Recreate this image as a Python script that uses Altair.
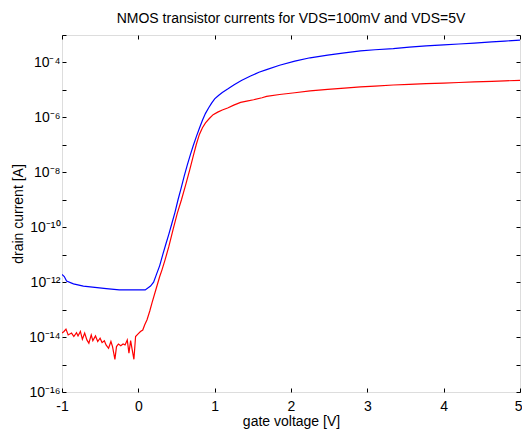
import json
import altair as alt
import pandas as pd

title_text = "NMOS transistor currents for VDS=100mV and VDS=5V"
x_title = "gate voltage [V]"
y_title = "drain current [A]"

# VDS = 5V (blue)
vg_5v = [-1.00, -0.97, -0.94, -0.85, -0.72, -0.60, -0.42, -0.25, 0.09, 0.16, 0.20, 0.24,
         0.28, 0.32, 0.36, 0.40, 0.44, 0.48, 0.52, 0.56, 0.60, 0.64, 0.68, 0.72, 0.76,
         0.80, 0.84, 0.88, 0.92, 0.96, 1.00, 1.05, 1.10, 1.17, 1.25, 1.35, 1.47, 1.58,
         1.68, 1.85, 2.05, 2.25, 2.48, 2.70, 2.91, 3.10, 3.34, 3.55, 3.77, 4.00, 4.20,
         4.40, 4.63, 4.80, 5.00]
id_5v = [1.9e-12, 1.6e-12, 1.1e-12, 8.7e-13, 7.2e-13, 6.6e-13, 5.8e-13, 5.2e-13, 5.2e-13,
         7.2e-13, 1.0e-12, 2.0e-12, 4.0e-12, 1.0e-11, 2.4e-11, 5.6e-11, 1.4e-10, 3.5e-10,
         1.0e-9, 2.6e-9, 7.1e-9, 1.8e-8, 4.2e-8, 9.5e-8, 2.0e-7, 4.0e-7, 7.9e-7, 1.4e-6,
         2.2e-6, 3.3e-6, 4.7e-6, 6.3e-6, 8.1e-6, 1.07e-5, 1.5e-5, 2.2e-5, 3.2e-5, 4.4e-5,
         5.5e-5, 7.9e-5, 1.12e-4, 1.48e-4, 1.86e-4, 2.24e-4, 2.63e-4, 2.9e-4, 3.2e-4,
         3.6e-4, 4.0e-4, 4.4e-4, 4.7e-4, 5.1e-4, 5.6e-4, 6.0e-4, 6.5e-4]

# VDS = 100mV (red)
vg_100mv = [-1.000, -0.974, -0.948, -0.919, -0.875, -0.845, -0.810, -0.790, -0.759, -0.733,
            -0.703, -0.674, -0.648, -0.617, -0.596, -0.561, -0.532, -0.501, -0.475, -0.445,
            -0.423, -0.390, -0.359, -0.338, -0.307, -0.286, -0.261, -0.230, -0.200, -0.174,
            -0.145, -0.123, -0.101, -0.080, -0.058, -0.036, -0.003, 0.028, 0.058, 0.084,
            0.114, 0.15, 0.18, 0.235, 0.28, 0.31, 0.351, 0.40, 0.458, 0.51, 0.565, 0.62,
            0.674, 0.72, 0.76, 0.80, 0.84, 0.88, 0.93, 0.98, 1.04, 1.10, 1.17, 1.25, 1.34,
            1.42, 1.51, 1.62, 1.68, 1.85, 2.05, 2.25, 2.48, 2.70, 2.91, 3.10, 3.34, 3.55,
            3.77, 4.00, 4.20, 4.40, 4.63, 4.80, 5.00]
id_100mv = [1.4e-14, 1.6e-14, 1.95e-14, 1.2e-14, 1.4e-14, 1.05e-14, 1.45e-14, 1.1e-14, 1.6e-14,
            8.3e-15, 1.4e-14, 7.9e-15, 6.0e-15, 1.2e-14, 7.4e-15, 1.1e-14, 6.9e-15, 9.1e-15,
            6.3e-15, 7.4e-15, 5.2e-15, 3.9e-15, 6.9e-15, 4.5e-15, 1.55e-15, 4.5e-15, 5.6e-15,
            4.8e-15, 5.6e-15, 5.2e-15, 7.9e-15, 2.6e-15, 7.4e-15, 3.4e-15, 1.55e-15, 1.05e-14,
            1.3e-14, 1.6e-14, 1.8e-14, 2.8e-14, 4.3e-14, 8.9e-14, 1.8e-13, 6.0e-13, 1.6e-12,
            2.8e-12, 6.6e-12, 2.0e-11, 8.9e-11, 3.2e-10, 1.0e-9, 3.5e-9, 1.26e-8, 4.0e-8,
            1.05e-7, 2.4e-7, 4.2e-7, 6.3e-7, 9.1e-7, 1.26e-6, 1.55e-6, 1.86e-6, 2.2e-6, 2.8e-6,
            3.5e-6, 3.9e-6, 4.4e-6, 5.2e-6, 5.8e-6, 6.8e-6, 7.9e-6, 9.3e-6, 1.05e-5, 1.17e-5,
            1.29e-5, 1.38e-5, 1.51e-5, 1.58e-5, 1.7e-5, 1.78e-5, 1.86e-5, 1.95e-5, 2.04e-5,
            2.14e-5, 2.24e-5]

series_names = ["VDS=5V", "VDS=100mV"]
series_colors = ["#0000ff", "#ff0000"]

x_ticks = [-1, 0, 1, 2, 3, 4, 5]
y_ticks = [1e-16, 1e-15, 1e-14, 1e-13, 1e-12, 1e-11, 1e-10, 1e-9, 1e-8, 1e-7,
           1e-6, 1e-5, 1e-4, 1e-3]
y_tick_labels = ["10⁻¹⁶", "", "10⁻¹⁴", "", "10⁻¹²", "", "10⁻¹⁰", "", "10⁻⁸", "",
                 "10⁻⁶", "", "10⁻⁴", ""]

df = pd.concat([
    pd.DataFrame({"V": vg_5v, "I": id_5v, "series": series_names[0]}),
    pd.DataFrame({"V": vg_100mv, "I": id_100mv, "series": series_names[1]}),
])

FONT = "Arial, Liberation Sans, sans-serif"
W, H = 458, 357

xs = alt.Scale(domain=[-1, 5], nice=False, zero=False)
ys = alt.Scale(type="log", domain=[1e-16, 1e-3], nice=False)
cs = alt.Scale(domain=series_names, range=series_colors)

ylab_expr = json.dumps(y_tick_labels, ensure_ascii=False) + "[round(log(datum.value)/LN10)+16]"
last_x = x_ticks[-1]

common_axis = dict(grid=False, domain=False, tickColor="black", tickWidth=1, tickSize=4,
                   offset=-4, labelFont=FONT, labelFontSize=14, labelColor="black",
                   titleFont=FONT, titleFontSize=14, titleFontWeight="normal",
                   titleColor="black", labelFlush=False, labelOverlap=False)

x_main = alt.Axis(orient="bottom", values=x_ticks, labelPadding=7,
                  labelExpr="'' + datum.value",
                  labelAlign={"expr": f"datum.value == {last_x} ? 'right' : 'center'"},
                  labelOffset={"expr": f"datum.value == {last_x} ? 2 : 0"},
                  title=x_title,
                  titleX=W / 2, titleY=33, titleBaseline="middle", titleAlign="center",
                  **common_axis)
y_main = alt.Axis(orient="left", values=y_ticks, labelPadding=2, labelExpr=ylab_expr,
                  title=y_title, titleX=-48, titleY=H / 2, titleAngle=-90,
                  titleBaseline="middle", titleAlign="center", **common_axis)
x_top = alt.Axis(orient="top", values=x_ticks, labels=False, title=None, **common_axis)
y_right = alt.Axis(orient="right", values=y_ticks, labels=False, title=None, **common_axis)

lines = alt.Chart(df).mark_line(strokeWidth=1.2, clip=True).encode(
    x=alt.X("V:Q", scale=xs, axis=x_main),
    y=alt.Y("I:Q", scale=ys, axis=y_main),
    color=alt.Color("series:N", scale=cs, legend=None),
    detail="series:N",
)

ghost = alt.Chart(df).mark_line(opacity=0).encode(
    x=alt.X("V:Q", scale=xs, axis=x_top),
    y=alt.Y("I:Q", scale=ys, axis=y_right),
    detail="series:N",
)

chart = alt.layer(lines, ghost).resolve_axis(x="independent", y="independent").properties(
    width=W, height=H,
    title=alt.Title(title_text, font=FONT, fontSize=14, fontWeight="normal",
                    color="black", anchor="middle", offset=2),
    autosize=alt.AutoSizeParams(type="none"),
    padding={"left": 54, "top": 27, "right": 2, "bottom": 38},
).configure_view(stroke="black", strokeWidth=1.6).configure(background="white")

chart.save("out.html", embed_options={"renderer": "svg", "actions": False})
